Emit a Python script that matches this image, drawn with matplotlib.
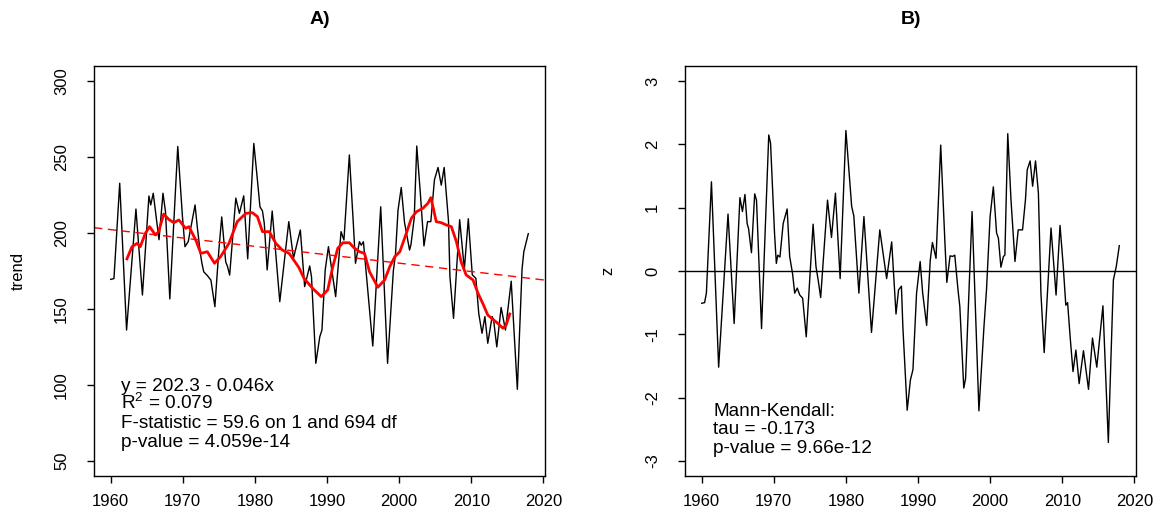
import matplotlib
matplotlib.use("Agg")
import matplotlib.pyplot as plt
import numpy as np

plt.rcParams['font.family'] = ['Liberation Sans', 'DejaVu Sans']
plt.rcParams['mathtext.fontset'] = 'custom'
plt.rcParams['mathtext.rm'] = 'Liberation Sans'
plt.rcParams['mathtext.it'] = 'Liberation Sans:italic'
plt.rcParams['axes.unicode_minus'] = False

# ---- Panel A: monthly series (key points) ----
trend_year = [1960.0, 1960.45, 1961.25, 1962.2, 1963.5, 1964.4, 1965.3, 1965.55, 1965.9, 1966.3,
              1966.7, 1967.25, 1967.6, 1968.2, 1969.3, 1969.95, 1970.3, 1970.75, 1971.7, 1972.0,
              1972.4, 1972.65, 1972.9, 1973.4, 1973.9, 1974.45, 1975.0, 1975.4, 1975.95, 1976.2,
              1976.5, 1977.35, 1977.85, 1978.45, 1979.0, 1979.85, 1980.35, 1980.7, 1981.05, 1981.3,
              1981.7, 1982.4, 1983.45, 1984.7, 1985.35, 1986.3, 1986.9, 1987.6, 1987.85, 1988.45,
              1989.0, 1989.3, 1989.75, 1990.2, 1991.2, 1991.95, 1992.35, 1993.1, 1993.65, 1993.95,
              1994.5, 1994.75, 1995.05, 1996.35, 1997.45, 1998.4, 1999.2, 1999.5, 1999.85, 2000.3,
              2000.75, 2001.45, 2001.65, 2002.1, 2002.45, 2002.95, 2003.45, 2003.95, 2004.4, 2004.9,
              2005.4, 2005.85, 2006.25, 2006.85, 2007.05, 2007.55, 2008.4, 2009.05, 2009.6, 2010.15,
              2010.65, 2011.05, 2011.5, 2011.9, 2012.3, 2012.9, 2013.1, 2013.55, 2014.15, 2014.75,
              2015.55, 2016.4, 2017.05, 2017.3, 2017.92]
trend_val = [169.5, 170.0, 232.8, 136.1, 215.8, 159.2, 224.4, 218.5, 226.2, 210.8,
             195.6, 226.2, 214.0, 156.6, 257.0, 210.8, 191.0, 194.3, 218.5, 204.4,
             187.7, 180.1, 174.5, 172.0, 169.0, 151.5, 188.8, 210.6, 181.0, 178.0,
             172.3, 223.0, 213.0, 224.5, 183.0, 259.0, 234.9, 217.3, 214.5, 206.4,
             175.7, 214.5, 154.8, 207.5, 183.4, 202.0, 164.7, 178.3, 171.2, 114.2,
             131.7, 136.1, 175.7, 191.0, 158.1, 200.9, 195.4, 251.4, 206.4, 180.1,
             194.3, 192.0, 194.3, 125.6, 217.3, 114.2, 175.0, 186.0, 215.0, 230.0,
             207.0, 188.8, 192.5, 210.0, 257.3, 226.0, 191.5, 207.5, 207.5, 235.0,
             243.2, 231.5, 243.2, 208.0, 171.3, 143.8, 208.8, 176.2, 209.4, 172.5,
             170.2, 147.0, 134.0, 145.0, 127.4, 145.0, 143.0, 125.0, 151.0, 136.1,
             168.3, 97.1, 176.0, 187.7, 199.6]

# 5-year moving average (red)
ma_year = [1962.25, 1962.95, 1963.65, 1964.1, 1964.8, 1965.4, 1966.2, 1966.65, 1967.35, 1968.05,
           1968.75, 1969.45, 1970.4, 1970.85, 1971.8, 1972.5, 1973.4, 1974.4, 1975.25, 1976.4,
           1977.55, 1978.75, 1979.65, 1980.35, 1981.05, 1982.0, 1982.9, 1983.8, 1984.75, 1986.1,
           1986.8, 1988.0, 1989.2, 1990.1, 1990.8, 1991.5, 1992.2, 1993.1, 1993.8, 1994.5,
           1995.2, 1995.9, 1997.05, 1998.0, 1998.7, 1999.4, 2000.1, 2001.0, 2001.7, 2002.4,
           2003.3, 2004.0, 2004.4, 2004.7, 2005.15, 2005.85, 2006.55, 2007.25, 2007.95, 2008.6,
           2009.3, 2010.25, 2010.95, 2011.6, 2012.3, 2013.0, 2013.7, 2014.4, 2014.85, 2015.35]
ma_val = [183.0, 191.0, 193.2, 191.0, 199.8, 204.2, 198.7, 200.9, 212.5, 209.0,
          206.8, 208.6, 203.1, 204.2, 195.4, 186.6, 187.7, 180.1, 184.5, 193.2,
          207.5, 213.0, 213.4, 210.8, 200.9, 200.9, 193.2, 188.8, 186.6, 177.3,
          170.2, 163.6, 158.1, 162.5, 177.8, 190.0, 193.6, 193.6, 190.0, 187.7,
          186.6, 174.5, 164.3, 169.1, 177.8, 184.4, 187.7, 199.8, 209.7, 214.0,
          216.3, 219.6, 223.3, 217.3, 207.5, 206.8, 205.3, 204.2, 194.3, 181.1,
          172.4, 169.1, 160.3, 153.7, 146.0, 143.2, 140.5, 137.3, 139.4, 146.7]

# linear model y = a + b * month_index
reg_a = 202.3
reg_b = -0.046
lm_text = ["y = 202.3 - 0.046x", "R$^2$ = 0.079",
           "F-statistic = 59.6 on 1 and 694 df", "p-value = 4.059e-14"]

# ---- Panel B: standardized series z ----
z_year = [1960.0, 1960.4, 1960.65, 1961.35, 1962.35, 1963.65, 1964.5, 1965.3, 1965.65, 1966.0,
          1966.3, 1966.5, 1966.9, 1967.35, 1967.6, 1968.3, 1969.3, 1969.55, 1970.1, 1970.35,
          1970.55, 1970.85, 1971.3, 1971.85, 1972.2, 1972.6, 1972.9, 1973.25, 1973.6, 1974.0,
          1974.5, 1975.45, 1975.85, 1976.15, 1976.5, 1977.45, 1978.0, 1978.55, 1979.2, 1980.0,
          1980.8, 1981.1, 1981.8, 1982.5, 1983.55, 1984.7, 1985.65, 1986.35, 1986.95, 1987.3,
          1987.7, 1987.9, 1988.5, 1988.95, 1989.3, 1989.8, 1990.3, 1990.65, 1991.2, 1991.7,
          1992.0, 1992.5, 1993.15, 1993.75, 1994.0, 1994.45, 1994.8, 1995.1, 1995.55, 1995.8,
          1996.35, 1996.6, 1997.5, 1998.45, 1999.15, 1999.5, 2000.0, 2000.45, 2000.9, 2001.15,
          2001.5, 2001.85, 2002.05, 2002.45, 2002.9, 2003.45, 2003.9, 2004.5, 2004.9, 2005.15,
          2005.55, 2005.9, 2006.3, 2006.7, 2007.05, 2007.5, 2008.45, 2009.15, 2009.7, 2010.15,
          2010.5, 2010.75, 2011.1, 2011.5, 2011.9, 2012.35, 2012.95, 2013.65, 2014.2, 2014.8,
          2015.65, 2016.4, 2017.1, 2017.5, 2017.92]
z_val = [-0.51, -0.50, -0.35, 1.41, -1.52, 0.90, -0.83, 1.16, 0.94, 1.21,
         0.75, 0.67, 0.29, 1.22, 1.12, -0.91, 2.15, 2.02, 0.60, 0.12,
         0.25, 0.22, 0.75, 0.98, 0.23, -0.04, -0.35, -0.27, -0.38, -0.43,
         -1.04, 0.74, 0.07, -0.14, -0.42, 1.12, 0.53, 1.23, -0.12, 2.22,
         1.02, 0.87, -0.35, 0.86, -0.97, 0.65, -0.12, 0.46, -0.68, -0.30,
         -0.24, -0.88, -2.20, -1.72, -1.56, -0.35, 0.15, -0.35, -0.86, 0.17,
         0.45, 0.20, 1.99, 0.41, -0.18, 0.24, 0.23, 0.25, -0.30, -0.56,
         -1.85, -1.70, 0.94, -2.21, -0.88, -0.30, 0.86, 1.33, 0.60, 0.52,
         0.06, 0.23, 0.25, 2.17, 1.12, 0.15, 0.65, 0.65, 1.12, 1.60,
         1.74, 1.34, 1.74, 1.23, -0.35, -1.29, 0.68, -0.38, 0.72, 0.07,
         -0.54, -0.50, -1.04, -1.59, -1.25, -1.78, -1.26, -1.87, -1.06, -1.52,
         -0.55, -2.71, -0.14, 0.07, 0.40]
mk_text = ["Mann-Kendall:", "tau = -0.173", "p-value = 9.66e-12"]

x_ticks = [1960, 1970, 1980, 1990, 2000, 2010, 2020]
yA_ticks = [50, 100, 150, 200, 250, 300]
yB_ticks = [-3, -2, -1, 0, 1, 2, 3]

W, H = 1159, 523
fig = plt.figure(figsize=(W / 100, H / 100), dpi=100)
axA = fig.add_axes([94 / W, 47 / H, 451 / W, 410 / H])
axB = fig.add_axes([685 / W, 47 / H, 451 / W, 410 / H])

x_lo, x_hi = 1960.0, 2017.92
pad = 0.04 * (x_hi - x_lo)

for ax in (axA, axB):
    ax.set_xlim(x_lo - pad, x_hi + pad)
    ax.set_xticks(x_ticks)
    for s in ax.spines.values():
        s.set_linewidth(1.0)
        s.set_color('black')
    ax.tick_params(direction='out', length=5, width=1.0, labelsize=12, color='black')
    ax.tick_params(axis='x', pad=8)
    ax.tick_params(axis='y', pad=13, labelrotation=90)

# Panel A
axA.plot(trend_year, trend_val, color='black', lw=1.0)
axA.plot(ma_year, ma_val, color='red', lw=2.0, solid_joinstyle='round')
y1960 = reg_a + reg_b * 1
axA.axline((1960, y1960), slope=reg_b * 12, color='red', lw=1.0, ls=(0, (6, 4)))
axA.set_ylim(40, 310)
axA.set_yticks(yA_ticks)
for lab in axA.get_yticklabels():
    lab.set_va('center')
for i, t in enumerate(lm_text):
    axA.text(1961.4, 96.2 - 12.4 * i, t, fontsize=13.7, ha='left', va='baseline')

# Panel B
axB.plot(z_year, z_val, color='black', lw=1.0)
axB.axhline(0, color='black', lw=1.0)
axB.set_ylim(-3.24, 3.24)
axB.set_yticks(yB_ticks)
for lab in axB.get_yticklabels():
    lab.set_va('center')
for i, t in enumerate(mk_text):
    axB.text(1961.6, -2.287 - 0.292 * i, t, fontsize=13.7, ha='left', va='baseline')

fig.text(319.5 / W, 1 - 19 / H, "A)", fontsize=14, fontweight='bold', ha='center', va='center')
fig.text(910.5 / W, 1 - 19 / H, "B)", fontsize=14, fontweight='bold', ha='center', va='center')
fig.text(18 / W, 1 - 271 / H, "trend", fontsize=12, rotation=90, ha='center', va='center')
fig.text(608 / W, 1 - 271 / H, "z", fontsize=12, rotation=90, ha='center', va='center')

fig.savefig("out.png", dpi=100)
